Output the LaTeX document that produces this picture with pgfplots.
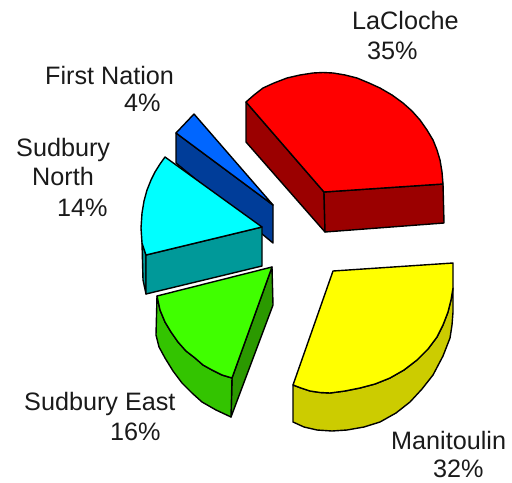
\documentclass[border=0pt]{standalone}
\usepackage{pgfplots}
\pgfplotsset{compat=1.18}
\usepackage{fontspec}
\setmainfont{Liberation Sans}
\definecolor{rT}{HTML}{FF0000}\definecolor{rD}{HTML}{9B0000}
\definecolor{bT}{HTML}{0066FF}\definecolor{bD}{HTML}{003D99}
\definecolor{cT}{HTML}{00FFFF}\definecolor{cD}{HTML}{009999}
\definecolor{gT}{HTML}{40FF00}\definecolor{gD}{HTML}{33C400}\definecolor{gS}{HTML}{2B9900}
\definecolor{yT}{HTML}{FFFF00}\definecolor{yD}{HTML}{CCCC00}
\definecolor{txt}{HTML}{1A1A1A}
\tikzset{lab/.style={anchor=base west,inner sep=0pt,font=\fontsize{25.2bp}{26bp}\selectfont,text=txt}}
\begin{document}
\begin{tikzpicture}
\path[use as bounding box] (0,0) rectangle (512bp,483bp);
\begin{axis}[at={(0,0)},anchor=south west,width=512bp,height=483bp,scale only axis,
  xmin=0,xmax=512,ymin=0,ymax=483,y dir=reverse,hide axis,clip=false,
  every axis plot/.append style={draw=black,line width=1.4pt,line join=round,no markers}]
% First Nation
\addplot[fill=bD] coordinates {(176,133)(273,205)(273,243)(176,163)} --cycle;
\addplot[fill=bT] coordinates {(176,133)(194,114)(273,205)} --cycle;
% Sudbury North
\addplot[fill=cD] coordinates {(142,243)(146,255)(146,294)(143,280)} --cycle;
\addplot[fill=cD] coordinates {(146,255)(262,227)(262,266)(146,294)} --cycle;
\addplot[fill=cT] coordinates {(165,157)(262,227)(146,255)(142,243)(141,228)(142,213)(144,201)(147,190)(151,180)(155,172)(160,164)} --cycle;
% Sudbury East
\addplot[fill=gS] coordinates {(272,267)(273,305)(231,417)(232,378)} --cycle;
\addplot[fill=gD] coordinates {(157,296)(156,335)(159,347)(165,358)(173,371)(182,383)(192,393)(202,402)(216,410)(231,417)(232,378)(222,375)(212,370)(203,365)(195,358)(186,351)(178,342)(171,332)(165,322)(160,310)} --cycle;
\addplot[fill=gT] coordinates {(157,296)(272,267)(232,378)(222,375)(212,370)(203,365)(195,358)(186,351)(178,342)(171,332)(165,322)(160,310)} --cycle;
% Manitoulin
\addplot[fill=yD] coordinates {(293,385)(293,422)(304,427)(317,430)(332,431)(347,430)(364,427)(380,422)(396,413)(410,402)(422,389)(433,375)(443,356)(450,338)(452,325)(453,312)(453,288)(451,300)(448,312)(443,325)(437,337)(428,349)(417,360)(404,370)(390,378)(375,384)(360,388)(345,391)(330,393)(320,392.5)(310,391)(301,388)} --cycle;
\addplot[fill=yT] coordinates {(333,271)(453,263)(453,288)(451,300)(448,312)(443,325)(437,337)(428,349)(417,360)(404,370)(390,378)(375,384)(360,388)(345,391)(330,393)(320,392.5)(310,391)(301,388)(293,385)} --cycle;
% LaCloche
\addplot[fill=rD] coordinates {(246,102)(324,192)(325,232)(246,142)} --cycle;
\addplot[fill=rD] coordinates {(324,192)(443,184)(444,223)(325,232)} --cycle;
\addplot[fill=rT] coordinates {(246,102)(254,95)(263,88)(274,83)(287,78)(300,75)(313,73)(323,72.5)(333,73)(345,75)(357,78)(369,83)(380,88)(392,95)(403,103)(412,111)(420,120)(427,130)(433,140)(437,150)(440,160)(442,172)(443,184)(324,192)} --cycle;
% Labels
\node[lab] at (axis cs:352,30) {LaCloche};
\node[lab] at (axis cs:367,60) {35\%};
\node[lab] at (axis cs:45,85) {First Nation};
\node[lab] at (axis cs:124,112) {4\%};
\node[lab] at (axis cs:16,156) {Sudbury};
\node[lab] at (axis cs:32,185) {North};
\node[lab] at (axis cs:57,216) {14\%};
\node[lab] at (axis cs:24,410) {Sudbury East};
\node[lab] at (axis cs:110,440) {16\%};
\node[lab] at (axis cs:391,449) {Manitoulin};
\node[lab] at (axis cs:433,477) {32\%};
\end{axis}
\end{tikzpicture}
\end{document}
